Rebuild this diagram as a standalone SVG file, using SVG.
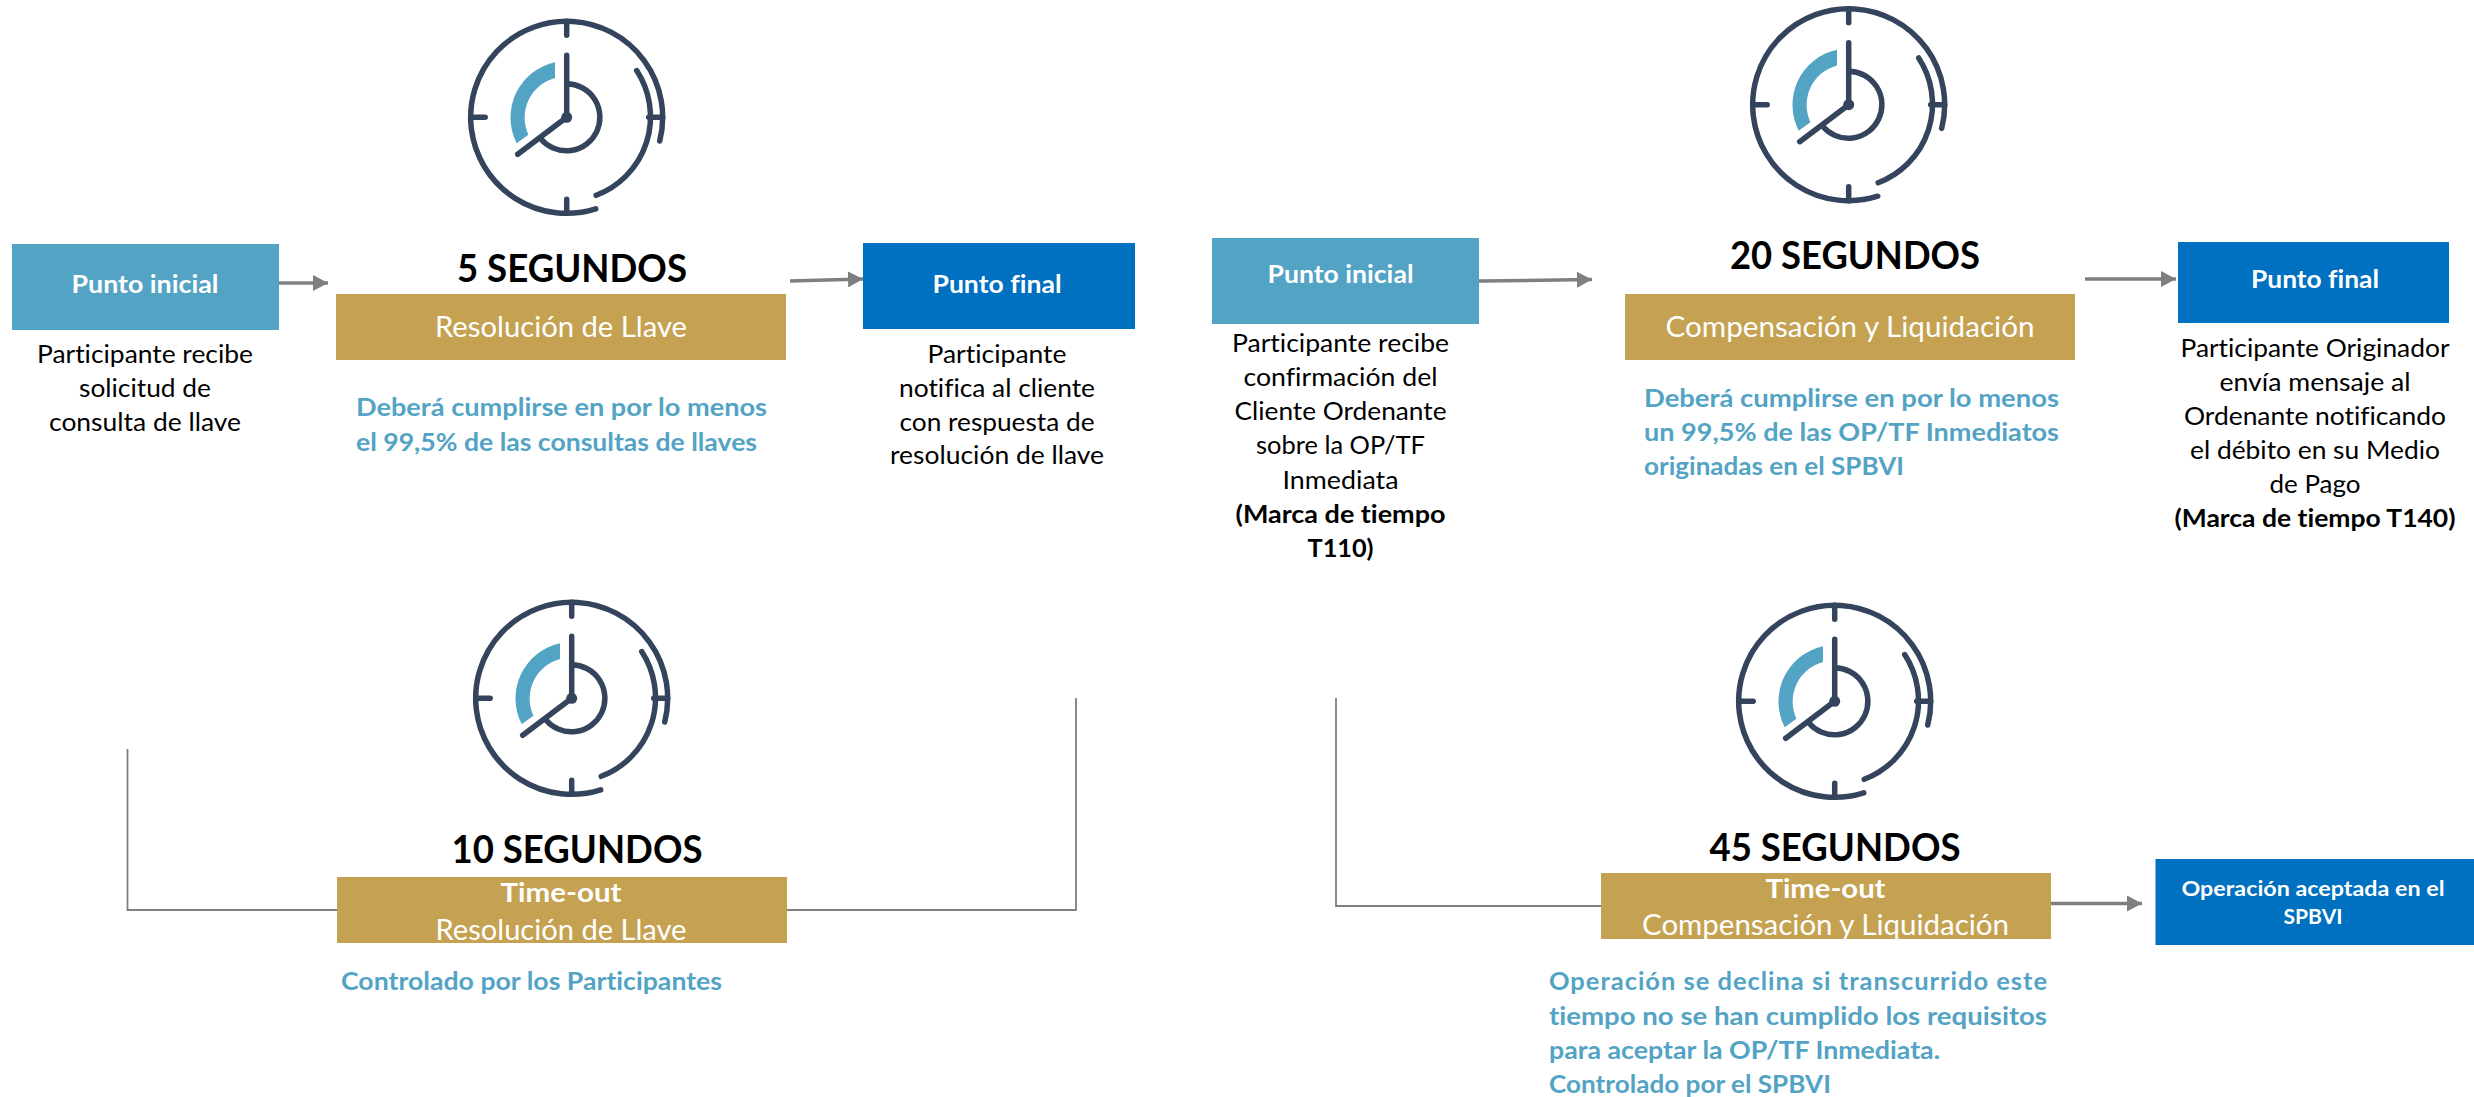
<svg xmlns="http://www.w3.org/2000/svg" width="2474" height="1097" viewBox="0 0 2474 1097">
<style>
text{font-family:Lato,"Open Sans","Liberation Sans",sans-serif;text-anchor:middle;fill:#000;font-size:25.500px;font-variant-ligatures:none}
.b{font-weight:700}
.h{font-weight:700;font-size:38.500px}
.box{font-size:25.500px;font-weight:700;fill:#fff}
.gt{font-size:28px;fill:#fff}
.gb{font-size:27.500px;font-weight:700;fill:#fff}
.n{font-size:25.500px;font-weight:700;fill:#53a3c5;text-anchor:start}
.s{font-size:21.500px;font-weight:700;fill:#fff}
.lb{fill:#53a3c5}.db{fill:#0070c0}.go{fill:#c5a252}
.ln{fill:none;stroke:#7f7f7f;stroke-width:1.800}
.ar{fill:none;stroke:#7f7f7f;stroke-width:3.500;marker-end:url(#ah)}
.ck{fill:none;stroke:#34445c;stroke-width:5.500;stroke-linecap:round}
</style>
<defs>
<marker id="ah" markerUnits="userSpaceOnUse" markerWidth="15" markerHeight="16" refX="15" refY="8" orient="auto"><path d="M0,0L15,8L0,16Z" fill="#7f7f7f"/></marker>
<g id="clock">
<path d="M-11.7,-55A56.5,56.5 0 0 0 -50,26L-38.3,17.5A41,41 0 0 1 -11.7,-39.3Z" fill="#53a3c5"/>
<g class="ck">
<path d="M93,23.7A96,96 0 1 0 29,91.5"/>
<path d="M70,-46.7A84,84 0 0 1 29.5,78"/>
<path d="M0,-96V-82M0,82V96M-96,0H-81.5M82,0H96"/>
<path d="M0,-33.5A33.5,33.5 0 1 1 -26,21.5"/>
<path d="M0,0V-62M0,0L-49,37"/>
</g>
<circle r="5.500" fill="#34445c"/>
</g>
</defs>
<rect width="2474" height="1097" fill="#fff"/>
<g id="connectors">
<path class="ar" d="M277,283H328"/>
<path class="ar" d="M790,281L863,279"/>
<path class="ln" d="M127.500,749V910H337"/>
<path class="ln" d="M1076,698V910H787"/>
<path class="ar" d="M1479,281L1592,279.500"/>
<path class="ar" d="M2085,279H2176"/>
<path class="ln" d="M1336,698V906H1601"/>
<path class="ar" d="M2051,903.500H2142"/>
</g>
<g id="clock-5"><use href="#clock" x="566.700" y="117.300"/></g>
<g id="clock-10"><use href="#clock" x="571.700" y="698.300"/></g>
<g id="clock-20"><use href="#clock" x="1848.700" y="104.700"/></g>
<g id="clock-45"><use href="#clock" x="1834.700" y="701.300"/></g>
<g id="inicial-1">
<rect class="lb" x="12" y="244" width="267" height="86"/>
<text class="box" x="145" y="293" textLength="147" lengthAdjust="spacingAndGlyphs">Punto inicial</text>
<text x="145" y="363" textLength="216" lengthAdjust="spacingAndGlyphs">Participante recibe</text>
<text x="145" y="397" textLength="132" lengthAdjust="spacingAndGlyphs">solicitud de</text>
<text x="145" y="431" textLength="192" lengthAdjust="spacingAndGlyphs">consulta de llave</text>
</g>
<g id="llave-5">
<text class="h" x="572" y="282" textLength="230" lengthAdjust="spacingAndGlyphs">5 SEGUNDOS</text>
<rect class="go" x="336" y="294" width="450" height="66"/>
<text class="gt" x="561" y="337" textLength="252" lengthAdjust="spacingAndGlyphs">Resolución de Llave</text>
<text class="n" x="356" y="416" textLength="411" lengthAdjust="spacingAndGlyphs">Deberá cumplirse en por lo menos</text>
<text class="n" x="356" y="451" textLength="401" lengthAdjust="spacingAndGlyphs">el 99,5% de las consultas de llaves</text>
</g>
<g id="final-1">
<rect class="db" x="863" y="243" width="272" height="86"/>
<text class="box" x="997" y="293" textLength="129" lengthAdjust="spacingAndGlyphs">Punto final</text>
<text x="997" y="363" textLength="139" lengthAdjust="spacingAndGlyphs">Participante</text>
<text x="997" y="397" textLength="196" lengthAdjust="spacingAndGlyphs">notifica al cliente</text>
<text x="997" y="431" textLength="195" lengthAdjust="spacingAndGlyphs">con respuesta de</text>
<text x="997" y="464" textLength="214" lengthAdjust="spacingAndGlyphs">resolución de llave</text>
</g>
<g id="timeout-10">
<text class="h" x="577" y="863" textLength="251" lengthAdjust="spacingAndGlyphs">10 SEGUNDOS</text>
<rect class="go" x="337" y="877" width="450" height="66"/>
<text class="gb" x="561" y="902" textLength="121" lengthAdjust="spacingAndGlyphs">Time-out</text>
<text class="gt" x="561" y="940" textLength="251" lengthAdjust="spacingAndGlyphs">Resolución de Llave</text>
<text class="n" x="341" y="990" textLength="381" lengthAdjust="spacingAndGlyphs">Controlado por los Participantes</text>
</g>
<g id="inicial-2">
<rect class="lb" x="1212" y="238" width="267" height="86"/>
<text class="box" x="1340.500" y="283" textLength="146" lengthAdjust="spacingAndGlyphs">Punto inicial</text>
<text x="1340.500" y="352" textLength="217" lengthAdjust="spacingAndGlyphs">Participante recibe</text>
<text x="1340.500" y="386" textLength="194" lengthAdjust="spacingAndGlyphs">confirmación del</text>
<text x="1340.500" y="420" textLength="212" lengthAdjust="spacingAndGlyphs">Cliente Ordenante</text>
<text x="1340.500" y="454" textLength="169" lengthAdjust="spacingAndGlyphs">sobre la OP/TF</text>
<text x="1340.500" y="489" textLength="116" lengthAdjust="spacingAndGlyphs">Inmediata</text>
<text class="b" x="1340.500" y="523" textLength="210" lengthAdjust="spacingAndGlyphs">(Marca de tiempo</text>
<text class="b" x="1340.500" y="557" textLength="66" lengthAdjust="spacingAndGlyphs">T110)</text>
</g>
<g id="compensacion-20">
<text class="h" x="1855" y="269" textLength="250" lengthAdjust="spacingAndGlyphs">20 SEGUNDOS</text>
<rect class="go" x="1625" y="294" width="450" height="66"/>
<text class="gt" x="1850" y="337" textLength="369" lengthAdjust="spacingAndGlyphs">Compensación y Liquidación</text>
<text class="n" x="1644" y="407" textLength="415" lengthAdjust="spacingAndGlyphs">Deberá cumplirse en por lo menos</text>
<text class="n" x="1644" y="441" textLength="415" lengthAdjust="spacingAndGlyphs">un 99,5% de las OP/TF Inmediatos</text>
<text class="n" x="1644" y="475" textLength="260" lengthAdjust="spacingAndGlyphs">originadas en el SPBVI</text>
</g>
<g id="final-2">
<rect class="db" x="2178" y="242" width="271" height="81"/>
<text class="box" x="2315" y="288" textLength="128" lengthAdjust="spacingAndGlyphs">Punto final</text>
<text x="2315" y="357" textLength="269" lengthAdjust="spacingAndGlyphs">Participante Originador</text>
<text x="2315" y="391" textLength="191" lengthAdjust="spacingAndGlyphs">envía mensaje al</text>
<text x="2315" y="425" textLength="262" lengthAdjust="spacingAndGlyphs">Ordenante notificando</text>
<text x="2315" y="459" textLength="250" lengthAdjust="spacingAndGlyphs">el débito en su Medio</text>
<text x="2315" y="493" textLength="91" lengthAdjust="spacingAndGlyphs">de Pago</text>
<text class="b" x="2315" y="527" textLength="281" lengthAdjust="spacingAndGlyphs">(Marca de tiempo T140)</text>
</g>
<g id="timeout-45">
<text class="h" x="1835" y="861" textLength="251" lengthAdjust="spacingAndGlyphs">45 SEGUNDOS</text>
<rect class="go" x="1601" y="873" width="450" height="66"/>
<text class="gb" x="1825.500" y="898" textLength="120" lengthAdjust="spacingAndGlyphs">Time-out</text>
<text class="gt" x="1825.500" y="935" textLength="367" lengthAdjust="spacingAndGlyphs">Compensación y Liquidación</text>
<text class="n" x="1549" y="990" textLength="498" lengthAdjust="spacing">Operación se declina si transcurrido este</text>
<text class="n" x="1549" y="1025" textLength="498" lengthAdjust="spacingAndGlyphs">tiempo no se han cumplido los requisitos</text>
<text class="n" x="1549" y="1059" textLength="391" lengthAdjust="spacingAndGlyphs">para aceptar la OP/TF Inmediata.</text>
<text class="n" x="1549" y="1093" textLength="282" lengthAdjust="spacingAndGlyphs">Controlado por el SPBVI</text>
</g>
<g id="aceptada">
<rect class="db" x="2155.500" y="859" width="318.500" height="86"/>
<text class="s" x="2313" y="896" textLength="263" lengthAdjust="spacingAndGlyphs">Operación aceptada en el</text>
<text class="s" x="2313" y="924" textLength="59" lengthAdjust="spacingAndGlyphs">SPBVI</text>
</g>
</svg>
